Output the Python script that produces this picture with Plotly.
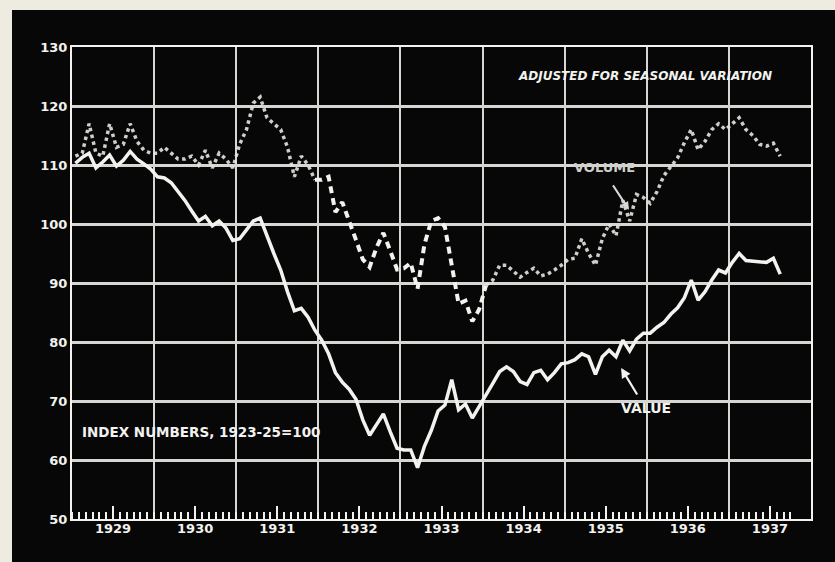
import plotly.graph_objects as go

# ---------------- data (monthly index numbers, 1923-25 = 100) ----------------
YEARS = [1929, 1930, 1931, 1932, 1933, 1934, 1935, 1936, 1937]
YEAR_LABELS = ["1929", "1930", "1931", "1932", "1933", "1934", "1935", "1936", "1937"]
Y_TICKS = [50, 60, 70, 80, 90, 100, 110, 120, 130]

volume_1929 = [111.5, 112, 117, 112, 111.5, 117, 113, 113.5, 117, 114, 112.5, 112]
volume_1930 = [112, 113, 112, 111, 111, 111.5, 110, 112.5, 109.5, 112, 111, 109.5]
volume_1931 = [113.5, 116, 120.5, 121.5, 118, 117, 116, 113, 108, 111.5, 110, 107.5]
volume_1932 = [107.5, 108, 102, 103.7, 100.7, 97.3, 94, 92.7, 96, 98.5, 95.5, 92.3]
volume_1933 = [92.5, 93.4, 89, 96.5, 100.5, 101, 99.5, 93, 86.5, 87, 83.5, 85.5]
volume_1934 = [89.6, 90.5, 93, 93, 92, 91, 91.8, 92.5, 91.2, 91.5, 92.2, 93]
volume_1935 = [94, 94.2, 97.5, 95, 93, 97.5, 100, 98, 104, 100.5, 105, 104.5]
volume_1936 = [103.5, 105.5, 108.2, 109.8, 111.2, 113.8, 116, 112.6, 114, 116, 117, 116]
volume_1937 = [117, 118, 116, 115, 113.5, 113.2, 113.7, 111.5]

value_1929 = [110.3, 111.3, 112, 109.5, 110.5, 111.7, 109.8, 110.8, 112.3, 111, 110.2, 109.3]
value_1930 = [108, 107.8, 107, 105.5, 104, 102.2, 100.5, 101.3, 99.7, 100.5, 99.3, 97.2]
value_1931 = [97.5, 99, 100.5, 101, 97.8, 95, 92.2, 88.5, 85.3, 85.7, 84.2, 82]
value_1932 = [80.3, 78, 74.8, 73.2, 72, 70.3, 66.8, 64.2, 66, 67.8, 64.8, 62]
value_1933 = [61.7, 61.7, 58.7, 62.3, 65, 68.3, 69.3, 73.6, 68.5, 69.5, 67.1, 69]
value_1934 = [71, 73, 75, 75.8, 75, 73.3, 72.8, 74.8, 75.2, 73.6, 74.8, 76.3]
value_1935 = [76.5, 77, 78, 77.5, 74.5, 77.5, 78.6, 77.5, 80.3, 78.5, 80.5, 81.5]
value_1936 = [81.5, 82.5, 83.3, 84.7, 85.8, 87.5, 90.5, 87.1, 88.5, 90.5, 92.2, 91.7]
value_1937 = [93.5, 95, 93.8, 93.7, 93.5, 93.5, 94.2, 91.5]

volume = (volume_1929 + volume_1930 + volume_1931 + volume_1932 + volume_1933
          + volume_1934 + volume_1935 + volume_1936 + volume_1937)
value = (value_1929 + value_1930 + value_1931 + value_1932 + value_1933
         + value_1934 + value_1935 + value_1936 + value_1937)

# volume drawn dashed from Dec 1931 to Jan 1934 (month indexes)
DASHED_FROM, DASHED_TO = 35, 60

# ---------------- derived positions (through the axis scale) ----------------
start = YEARS[0]
n = len(volume)
x_month = [start + (i + 0.5) / 12 for i in range(n)]
month_bounds = [start + i / 12 for i in range(n + 2)]
year_bounds = YEARS + [YEARS[-1] + 1]
year_mids = [y + 0.5 for y in YEARS]

vol_dotted_a = [v if i <= DASHED_FROM else None for i, v in enumerate(volume)]
vol_dashed = [v if DASHED_FROM <= i <= DASHED_TO else None for i, v in enumerate(volume)]
vol_dotted_b = [v if i >= DASHED_TO else None for i, v in enumerate(volume)]

BG = "#070707"
INK = "#f2f2ee"
GRID = "#d6d6d2"
FONT = "DejaVu Sans"

fig = go.Figure()
fig.add_trace(go.Scatter(x=x_month, y=vol_dotted_a, mode="lines", connectgaps=False,
                         line=dict(color="rgba(228,228,224,0.9)", width=3.5, dash="dot"),
                         hoverinfo="skip", showlegend=False))
fig.add_trace(go.Scatter(x=x_month, y=vol_dotted_b, mode="lines", connectgaps=False,
                         line=dict(color="rgba(228,228,224,0.9)", width=3.5, dash="dot"),
                         hoverinfo="skip", showlegend=False))
fig.add_trace(go.Scatter(x=x_month, y=vol_dashed, mode="lines", connectgaps=False,
                         line=dict(color=INK, width=4, dash="7px,5px"),
                         hoverinfo="skip", showlegend=False))
fig.add_trace(go.Scatter(x=x_month, y=value, mode="lines", xaxis="x2",
                         line=dict(color=INK, width=3.5),
                         hoverinfo="skip", showlegend=False))

tickfont = dict(family=FONT, size=13, color=INK, weight="bold")

fig.update_layout(
    width=835, height=562,
    margin=dict(l=72, r=24, t=47, b=43, pad=0),
    paper_bgcolor=BG, plot_bgcolor=BG,
    xaxis=dict(
        range=[year_bounds[0], year_bounds[-1]], tickmode="array", tickvals=year_bounds,
        showticklabels=False, ticks="", showgrid=True, gridcolor=GRID, gridwidth=2,
        showline=True, linecolor=INK, linewidth=2, mirror=True, zeroline=False,
        minor=dict(tickmode="array", tickvals=month_bounds, ticks="inside", ticklen=7,
                   tickwidth=1.5, tickcolor=INK, showgrid=False),
    ),
    xaxis2=dict(
        overlaying="x", anchor="y", side="bottom",
        range=[year_bounds[0], year_bounds[-1]], tickmode="array",
        tickvals=year_mids, ticktext=YEAR_LABELS, ticks="inside", ticklen=13,
        tickwidth=1.5, tickcolor=INK, showgrid=False, showline=False, zeroline=False,
        tickfont=tickfont,
    ),
    yaxis=dict(
        range=[Y_TICKS[0], Y_TICKS[-1]], tickmode="array", tickvals=Y_TICKS,
        showgrid=True, gridcolor=GRID, gridwidth=2.5, showline=True, linecolor=INK,
        linewidth=2, mirror=True, zeroline=False, ticks="", tickfont=tickfont,
    ),
    shapes=[
        dict(type="rect", xref="paper", yref="paper", x0=-0.2, x1=-0.0812, y0=-0.2, y1=1.2,
             fillcolor="#eeece1", line=dict(width=0), layer="below"),
        dict(type="rect", xref="paper", yref="paper", x0=-0.2, x1=1.2, y0=1.0784, y1=1.2,
             fillcolor="#eeece1", line=dict(width=0), layer="below"),
    ],
    annotations=[
        dict(text="ADJUSTED FOR SEASONAL VARIATION", x=1935.98, y=125.1, xref="x", yref="y",
             showarrow=False, font=dict(family=FONT, size=12, color=INK, weight="bold",
                                        style="italic")),
        dict(text="INDEX NUMBERS, 1923-25=100", x=1929.1, y=64.7, xref="x", yref="y",
             xanchor="left", showarrow=False,
             font=dict(family=FONT, size=13.5, color=INK, weight="bold")),
        dict(text="VOLUME", x=1935.48, y=109.5, xref="x", yref="y", showarrow=False,
             font=dict(family=FONT, size=13, color="#cfcfcb", weight="bold")),
        dict(text="VALUE", x=1935.99, y=68.8, xref="x", yref="y", showarrow=False,
             font=dict(family=FONT, size=14, color=INK, weight="bold")),
        dict(text="", x=1935.784, y=102.4, ax=1935.577, ay=106.8, xref="x", yref="y",
             axref="x", ayref="y", showarrow=True, arrowhead=2, arrowsize=0.8,
             arrowwidth=2, arrowcolor="#d8d8d4"),
        dict(text="", x=1935.687, y=75.6, ax=1935.894, ay=70.85, xref="x", yref="y",
             axref="x", ayref="y", showarrow=True, arrowhead=2, arrowsize=0.9,
             arrowwidth=2.2, arrowcolor=INK),
    ],
)

fig.write_html(
    "out.html",
    config={"displayModeBar": False},
    post_script="document.body.style.margin='0';document.body.style.overflow='hidden';",
)
